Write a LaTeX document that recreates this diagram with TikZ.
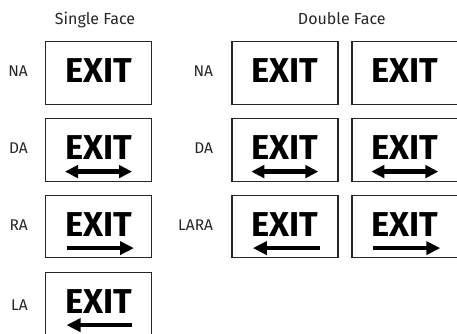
\documentclass[tikz,border=0pt]{standalone}
\usepackage{fontspec}
\setmainfont{Fira Sans}
\usetikzlibrary{arrows.meta}
\tikzset{
  sign/.style={draw=black!85, line width=1.3pt, minimum width=106pt, minimum height=62.5pt, inner sep=0pt, anchor=north west},
  exittxt/.style={font=\bfseries\fontsize{34.5}{36}\selectfont, inner sep=0pt, anchor=base},
  lbl/.style={font=\fontsize{15.5}{17}\selectfont, text=black!85, inner sep=0pt, anchor=base east},
  head/.style={font=\fontsize{16}{18}\selectfont, text=black!85, inner sep=0pt, anchor=base},
  rarr/.style={line width=4.6pt, -{Triangle[length=14pt,width=13pt]}},
  larr/.style={line width=4.6pt, {Triangle[length=14pt,width=13pt]}-},
  darr/.style={line width=4.6pt, {Triangle[length=13pt,width=12.5pt]}-{Triangle[length=13pt,width=12.5pt]}}
}
\begin{document}
\begin{tikzpicture}[x=1pt,y=1pt]
\useasboundingbox (0,0) rectangle (457,-333);
\path[clip] (0,0) rectangle (457,-333);
% headings
\node[head] (hs) at (95,-24) {Single Face};
\node[head] (hd) at (341.8,-24) {Double Face};
% single face boxes
\node[sign] (s1) at (45,-41) {};
\node[sign] (s2) at (45,-118) {};
\node[sign] (s3) at (45,-194.5) {};
\node[sign] (s4) at (45,-271.5) {};
% double face boxes
\node[sign] (d1) at (231.3,-41) {};
\node[sign] (d2) at (351.3,-41) {};
\node[sign] (d3) at (231.3,-118) {};
\node[sign] (d4) at (351.3,-118) {};
\node[sign] (d5) at (231.3,-194.5) {};
\node[sign] (d6) at (351.3,-194.5) {};
% EXIT texts
\foreach \b in {s1,s2,s3,s4,d1,d2,d3,d4,d5,d6}{
  \node[exittxt] (e\b) at ([yshift=-41.6pt]\b.north) {EXIT};
}
% labels
\node[lbl] (ls1) at (28,-76.7) {NA};
\node[lbl] (ls2) at (28,-153.3) {DA};
\node[lbl] (ls3) at (28,-230.7) {RA};
\node[lbl] (ls4) at (28,-310.5) {LA};
\node[lbl] (ld1) at (213.3,-76.7) {NA};
\node[lbl] (ld2) at (213.3,-153.3) {DA};
\node[lbl] (ld3) at (213.3,-230.7) {LARA};
% arrows
\draw[darr] ([xshift=20pt,yshift=-53.6pt]s2.north west) -- ([xshift=87pt,yshift=-53.6pt]s2.north west);
\draw[rarr] ([xshift=21.5pt,yshift=-53.6pt]s3.north west) -- ([xshift=89pt,yshift=-53.6pt]s3.north west);
\draw[larr] ([xshift=21.5pt,yshift=-53.6pt]s4.north west) -- ([xshift=87pt,yshift=-53.6pt]s4.north west);
\draw[darr] ([xshift=20pt,yshift=-53.6pt]d3.north west) -- ([xshift=87pt,yshift=-53.6pt]d3.north west);
\draw[darr] ([xshift=20pt,yshift=-53.6pt]d4.north west) -- ([xshift=87pt,yshift=-53.6pt]d4.north west);
\draw[larr] ([xshift=21.5pt,yshift=-53.6pt]d5.north west) -- ([xshift=89pt,yshift=-53.6pt]d5.north west);
\draw[rarr] ([xshift=21.5pt,yshift=-53.6pt]d6.north west) -- ([xshift=89pt,yshift=-53.6pt]d6.north west);
\end{tikzpicture}
\end{document}
